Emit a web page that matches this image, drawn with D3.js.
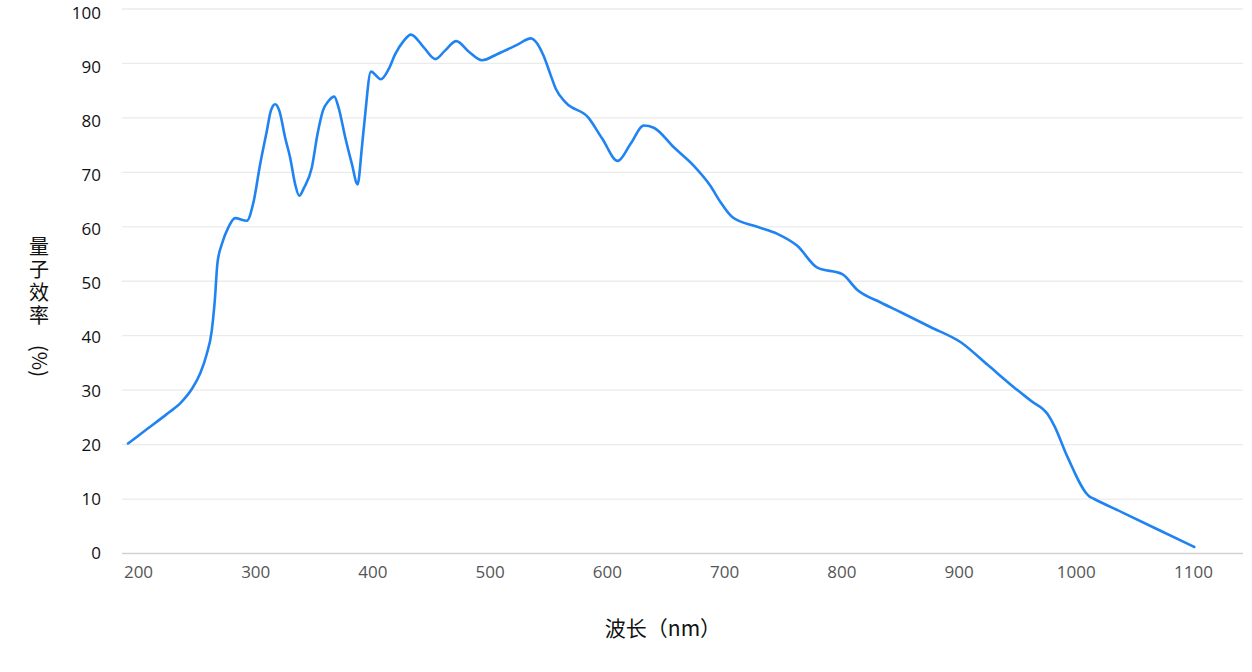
<!DOCTYPE html>
<html>
<head>
<meta charset="utf-8">
<script src="https://cdn.jsdelivr.net/npm/d3@7/dist/d3.min.js"></script>
<style>
  html, body { margin: 0; padding: 0; background: #fff; }
  svg { display: block; }
</style>
</head>
<body>
<svg id="chart" width="1252" height="672"></svg>
<script>
// ---- data ----
const wavelengths = [191.5, 208, 224.5, 237, 245.9, 252.9, 258.6, 262.9, 265.7, 267.7, 271.5, 277.1,
  282.8, 292.8, 298.5, 304.2, 309.9, 313.3, 317, 320.6, 325.5, 329.8,
  334.1, 337.5, 341.7, 348.3, 353.1, 357.7, 362.5, 367.4, 371.1, 376.8,
  382.5, 387.3, 391, 393.5, 398.7, 407.2, 413.7, 419.4, 426.5, 432.8,
  443.6, 453.6, 462.1, 471.5, 482.0, 493.5, 506.3, 523.3, 535.2, 538.9,
  546, 551.8, 556.5, 565, 584, 596, 609.2, 620.1, 631.5, 640,
  657.1, 674.2, 688.4, 697, 706.9, 728.3, 745.4, 762.4, 779.5, 800.8,
  813.7, 833.6, 850.7, 876, 901.9, 925, 947.4, 962, 975.9, 981.6, 993, 1011.5,
  1015, 1040, 1070, 1101.1];
const qe = [20.2, 22.9, 25.6, 27.8, 30.2, 33.0, 36.6, 40.9, 47.0, 53.2, 56.8, 59.9,
  61.6, 61.1, 64.5, 71.5, 77.6, 81.3, 82.5, 81.3, 76.4, 72.7,
  67.8, 65.7, 67.2, 70.9, 77.0, 81.3, 83.1, 83.9, 81.9, 76.4,
  71.5, 67.8, 74.6, 80.0, 88.5, 87.1, 88.9, 91.7, 94.1, 95.3,
  93.0, 90.8, 92.4, 94.1, 92.2, 90.6, 91.7, 93.4, 94.6, 94.1,
  91.4, 88.0, 85.3, 82.8, 80.1, 76.2, 72.1, 75.2, 78.6, 78.2,
  74.6, 71.2, 67.5, 64.5, 61.8, 60.0, 58.7, 56.5, 52.5, 51.3,
  48.4, 46.1, 44.3, 41.6, 38.8, 34.6, 30.5, 28.0, 25.6, 23.5, 17.7, 10.5,
  10.1, 7.5, 4.4, 1.2];
const xTicks = [200, 300, 400, 500, 600, 700, 800, 900, 1000, 1100];
const yTicks = [0, 10, 20, 30, 40, 50, 60, 70, 80, 90, 100];
const yTitleMain = "量子效率";
const yTitleUnit = "(%)";
const xTitle = "波长（nm）";

// ---- layout ----
const svg = d3.select("#chart");
const plotLeft = 122, plotRight = 1243, plotTop = 9, plotBottom = 553.5;

const x = d3.scaleLinear().domain([200, 1100]).range([138, 1193]);
const y = d3.scaleLinear().domain([0, 100]).range([plotBottom, plotTop]);

const latin = "'Open Sans', 'Noto Sans', 'Liberation Sans', sans-serif";
const cjk = "'Noto Sans CJK SC', 'Noto Sans', sans-serif";

// gridlines
svg.append("g")
  .selectAll("line")
  .data(yTicks.filter(d => d !== 0))
  .join("line")
  .attr("x1", plotLeft).attr("x2", plotRight)
  .attr("y1", d => y(d)).attr("y2", d => y(d))
  .attr("stroke", "#ebebeb").attr("stroke-width", 1.3);

// y axis labels
const yAxis = d3.axisLeft(y).tickValues(yTicks).tickSize(0).tickPadding(0);
const gy = svg.append("g").attr("transform", "translate(101,0)").call(yAxis);
gy.select(".domain").remove();
gy.selectAll("text")
  .attr("fill", "#111")
  .attr("font-size", 17)
  .attr("font-family", latin)
  .attr("dy", d => (0.32 + 0.22 * d / 100) + "em");

// x axis
const xAxis = d3.axisBottom(x).tickValues(xTicks).tickSize(0).tickPadding(12).tickFormat(d3.format("d"));
const gx = svg.append("g").attr("transform", `translate(0,${plotBottom})`).call(xAxis);
gx.select(".domain").remove();
gx.selectAll("text")
  .attr("fill", "#555")
  .attr("font-size", 17)
  .attr("font-family", latin);
svg.append("line")
  .attr("x1", plotLeft).attr("x2", plotRight)
  .attr("y1", plotBottom).attr("y2", plotBottom)
  .attr("stroke", "#d2d2d2").attr("stroke-width", 1.6);

// line
const pts = wavelengths.map((w, i) => [w, qe[i]]);
const line = d3.line()
  .x(d => x(d[0]))
  .y(d => y(d[1]))
  .curve(d3.curveMonotoneX);
svg.append("path")
  .datum(pts)
  .attr("d", line)
  .attr("fill", "none")
  .attr("stroke", "#1f84f2")
  .attr("stroke-width", 2.6)
  .attr("stroke-linejoin", "round")
  .attr("stroke-linecap", "round");

// y title (vertical)
svg.append("text")
  .attr("x", 39)
  .attr("y", 236)
  .attr("font-family", cjk)
  .attr("font-size", 20)
  .attr("fill", "#111")
  .style("writing-mode", "vertical-rl")
  .style("letter-spacing", "3px")
  .text(yTitleMain);
svg.append("text")
  .attr("transform", "translate(32,361) rotate(90)")
  .attr("text-anchor", "middle")
  .attr("font-family", cjk)
  .attr("font-size", 20)
  .attr("fill", "#111")
  .text(yTitleUnit);

// x title
svg.append("text")
  .attr("x", 663)
  .attr("y", 636)
  .attr("text-anchor", "middle")
  .attr("font-family", cjk)
  .attr("font-size", 21)
  .attr("fill", "#111")
  .text(xTitle);
</script>
</body>
</html>
